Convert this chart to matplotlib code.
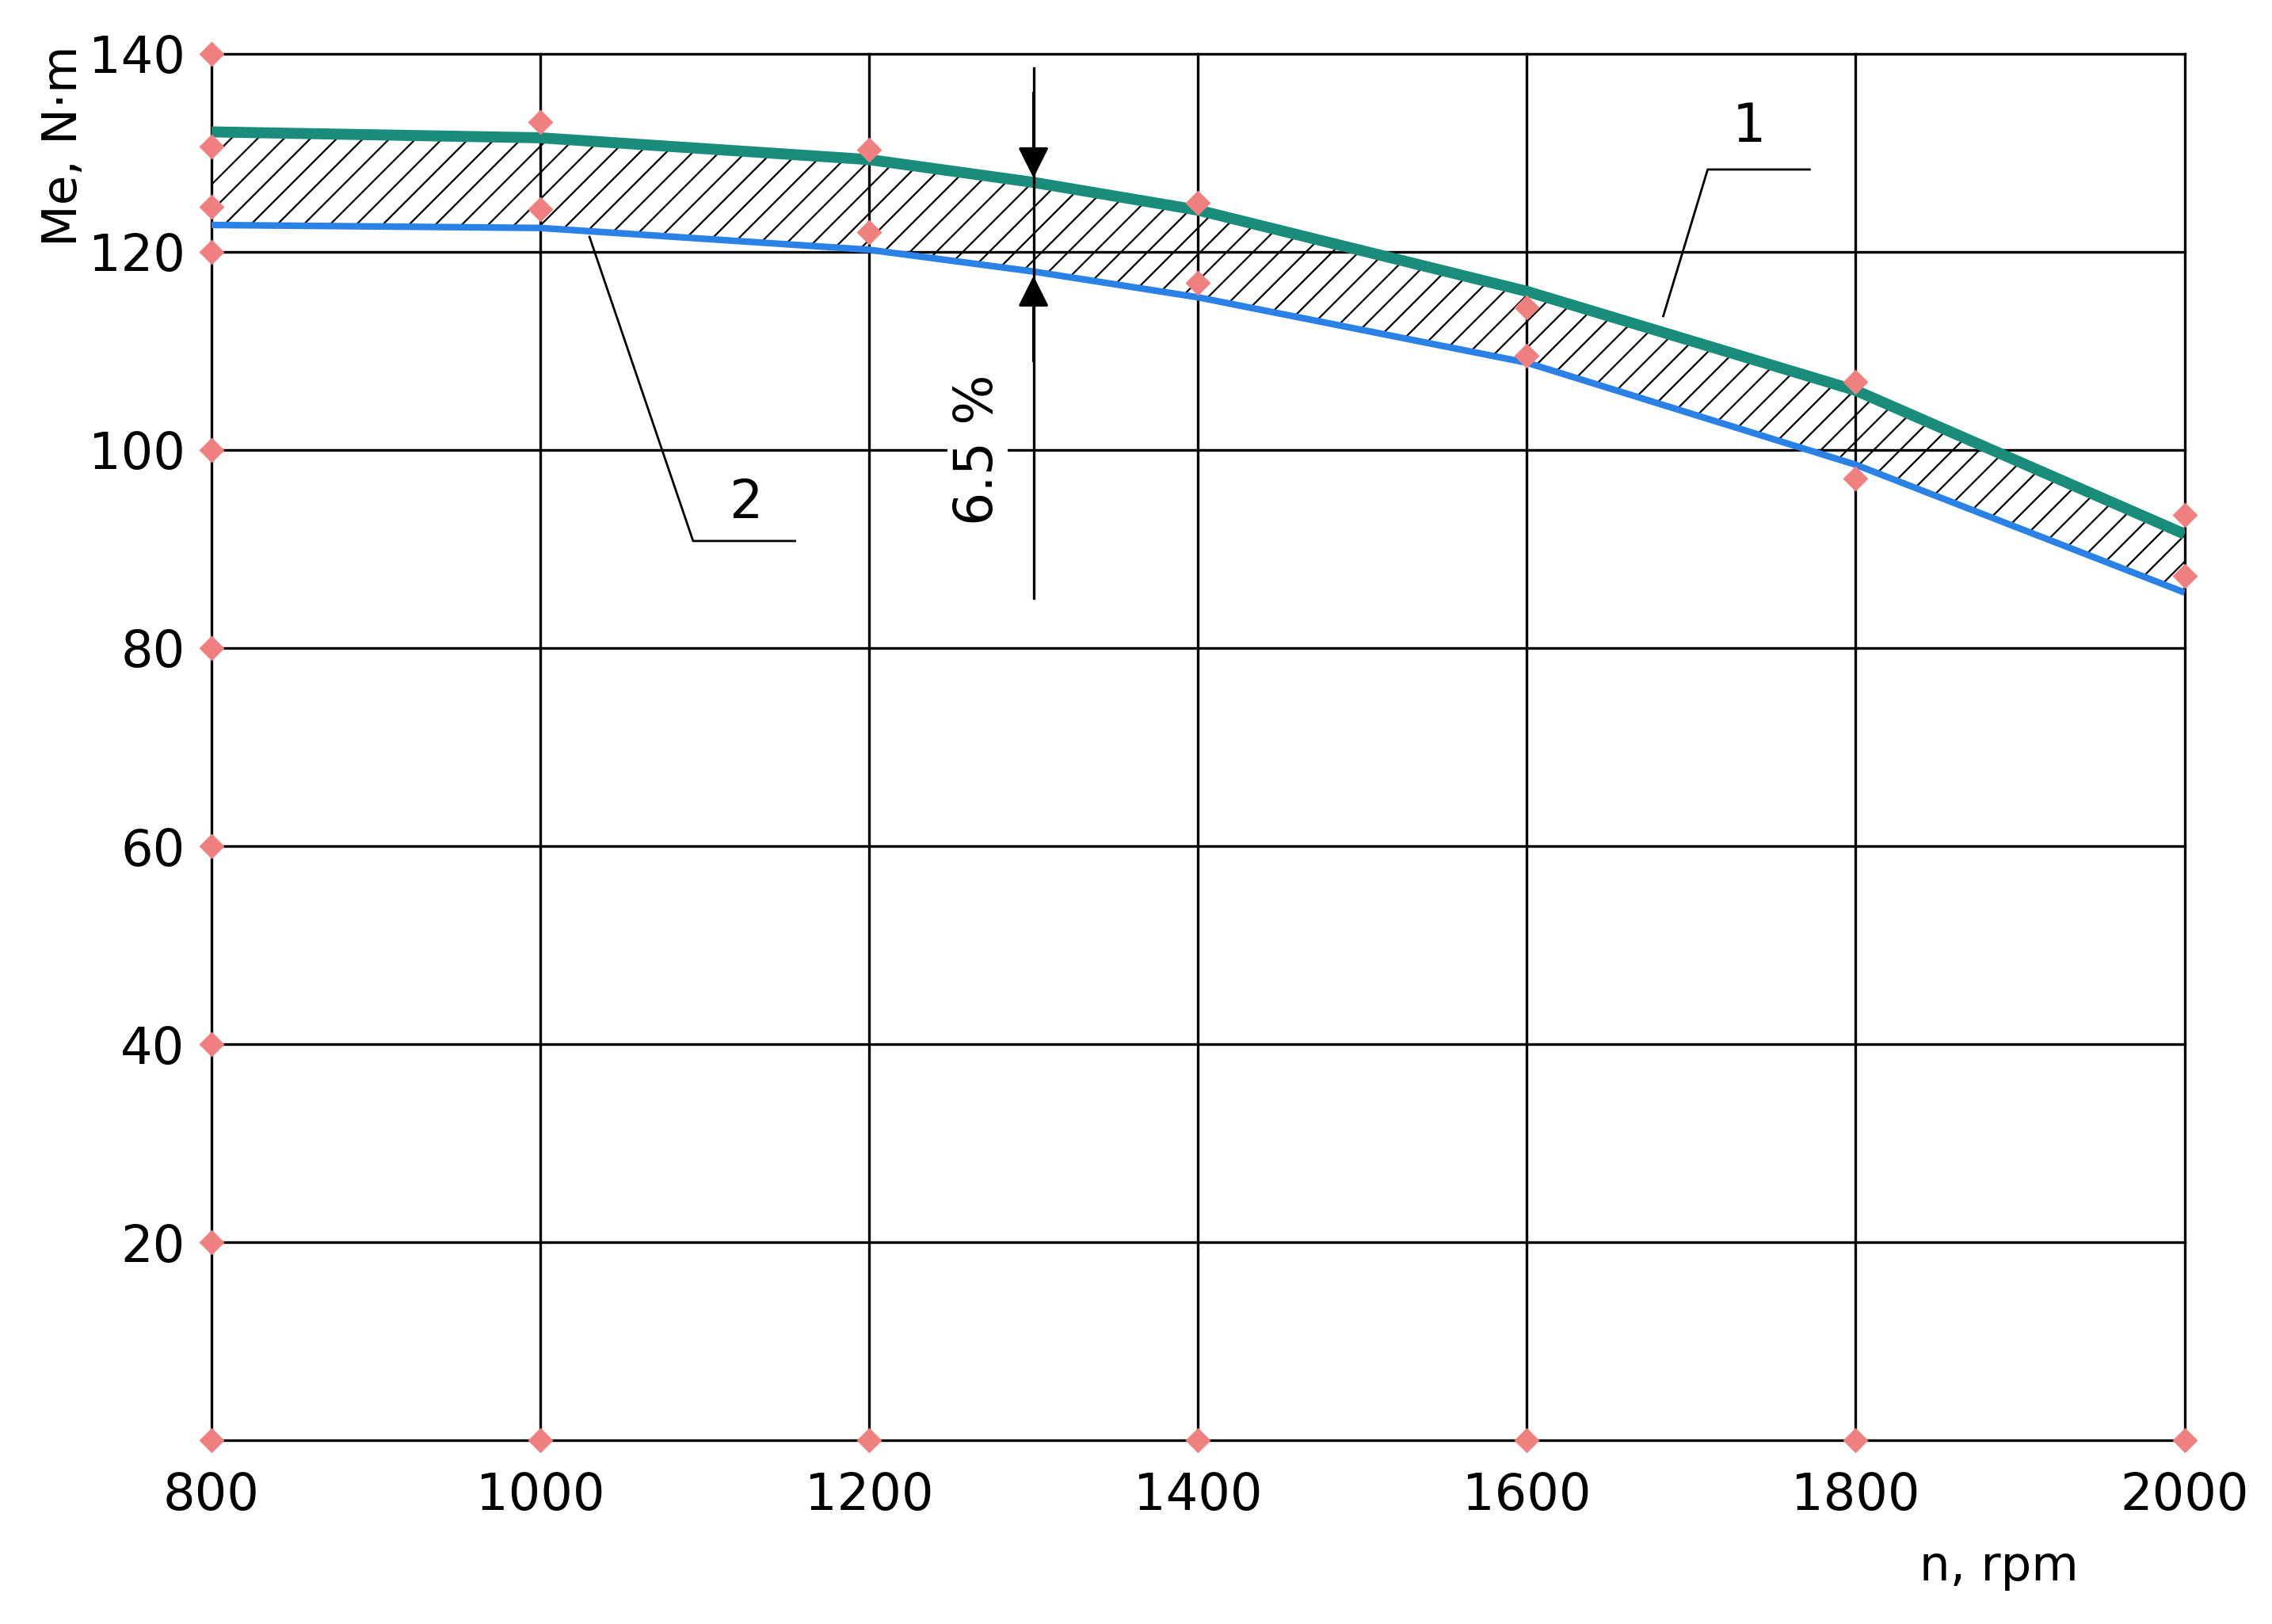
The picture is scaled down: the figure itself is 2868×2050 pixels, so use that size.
import matplotlib

matplotlib.use("Agg")
import matplotlib.pyplot as plt  # noqa: E402
import numpy as np  # noqa: E402

# engine speed, rpm
speed = [800, 1000, 1200, 1300, 1400, 1600, 1800, 2000]
# curve 1 (upper, teal) and curve 2 (lower, blue), N*m
torque_1 = [132.1, 131.5, 129.3, 127.0, 124.2, 116.0, 106.0, 91.5]
torque_2 = [122.7, 122.4, 120.2, 118.0, 115.4, 108.8, 98.5, 85.6]

# measured points (red diamonds)
pts_n = [800, 800, 1000, 1000, 1200, 1200, 1400, 1400, 1600, 1600, 1800, 1800, 2000, 2000]
pts_me = [130.6, 124.5, 133.1, 124.3, 130.3, 122.0, 124.9, 116.9, 114.4, 109.5, 106.9, 97.1, 93.4, 87.3]

x_ticks = [800, 1000, 1200, 1400, 1600, 1800, 2000]
y_ticks = [20, 40, 60, 80, 100, 120, 140]

plt.rcParams["hatch.linewidth"] = 0.8
fig = plt.figure(figsize=(14.34, 10.25), dpi=200)
ax = fig.add_axes([0.093, 0.113, 0.873 - 0.0045, 0.854])
ax.set_xlim(800, 2000)
ax.set_ylim(0, 140)

for x in x_ticks:
    ax.axvline(x, color="black", linewidth=1.2, zorder=1, clip_on=False)
for y in [0] + y_ticks:
    ax.axhline(y, color="black", linewidth=1.2, zorder=1, clip_on=False)
for s in ax.spines.values():
    s.set_visible(False)

x = np.array(speed, dtype=float)
ax.fill_between(x, torque_2, torque_1, facecolor="none", edgecolor="black",
                hatch="//", linewidth=0, zorder=2)
ax.plot(x, torque_1, color="#1a8c7c", linewidth=5, zorder=3, solid_capstyle="butt")
ax.plot(x, torque_2, color="#2a82e6", linewidth=3, zorder=3, solid_capstyle="butt")

mk = dict(marker="D", color="#f08080", markersize=7, linestyle="none", zorder=4)
ax.plot(pts_n, pts_me, clip_on=False, **mk)
ax.plot(x_ticks, [0] * len(x_ticks), clip_on=False, **mk)
ax.plot([800] * len(y_ticks), y_ticks, clip_on=False, **mk)

ax.set_xticks(x_ticks)
ax.set_yticks(y_ticks)
ax.tick_params(length=0, labelsize=23, pad=12)
ax.tick_params(axis="x", pad=14)

fig.text(0.88, 0.035, "n, rpm", fontsize=22, ha="center", va="center")
fig.text(0.028, 0.91, "Me, N·m", fontsize=22, rotation=90, ha="center", va="center")

# leader lines
ax.plot([1683, 1710, 1772], [113.5, 128.3, 128.3], color="black", linewidth=1, zorder=5)
ax.text(1735, 130, "1", fontsize=24, ha="center", va="bottom")
ax.plot([1030, 1093, 1155], [121.5, 90.8, 90.8], color="black", linewidth=1, zorder=5)
ax.text(1125, 92, "2", fontsize=24, ha="center", va="bottom")

# dimension 6.5 %
ax.plot([1300, 1300], [85, 138.5], color="black", linewidth=1.2, zorder=5)
ax.annotate("", xy=(1300, 127.0), xytext=(1300, 136.5),
            arrowprops=dict(arrowstyle="-|>", color="black", lw=1.2, mutation_scale=30), zorder=5)
ax.annotate("", xy=(1300, 118.0), xytext=(1300, 108.5),
            arrowprops=dict(arrowstyle="-|>", color="black", lw=1.2, mutation_scale=30), zorder=5)
ax.text(1266, 100, "6.5 %", fontsize=24, rotation=90, ha="center", va="center",
        bbox=dict(facecolor="white", edgecolor="none", pad=2), zorder=4)

fig.savefig("out.png", dpi=200, facecolor="white")
